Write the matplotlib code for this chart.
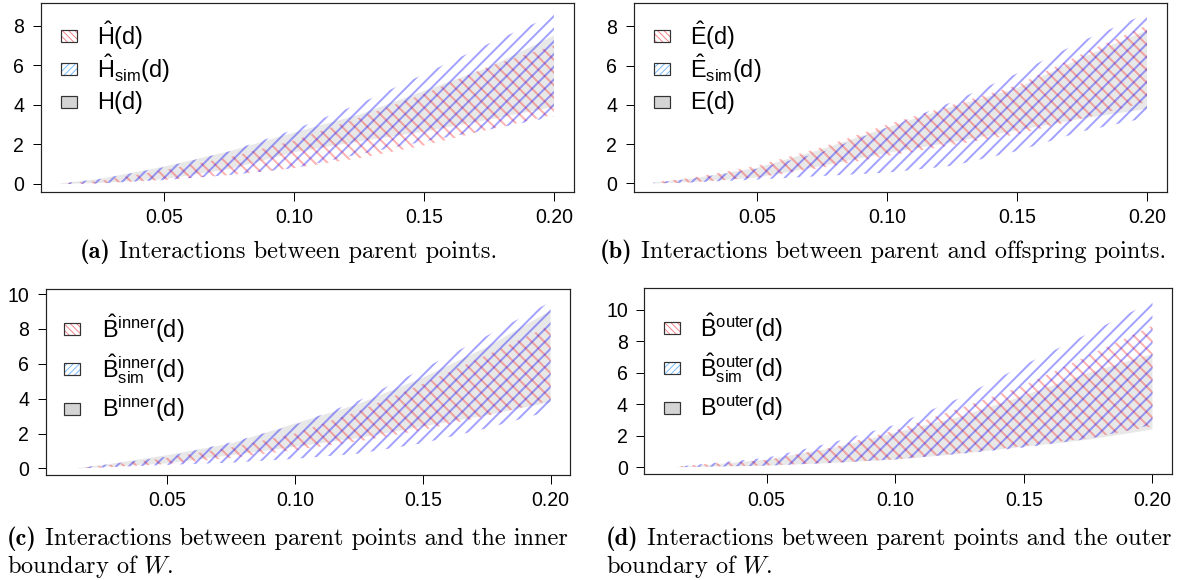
import matplotlib
matplotlib.use("Agg")
import matplotlib.pyplot as plt
from matplotlib.patches import Rectangle

# ---------------- data ----------------
x_a = [0.01, 0.025, 0.05, 0.075, 0.10, 0.125, 0.15, 0.175, 0.20]
H_lo = [0.0, 0.05, 0.25, 0.75, 1.6, 2.15, 2.65, 3.25, 3.9]
H_hi = [0.03, 0.25, 0.88, 1.65, 2.6, 3.5, 4.7, 5.9, 7.5]
Hhat_lo = [0.0, 0.03, 0.2, 0.45, 0.8, 1.3, 1.95, 2.75, 3.5]
Hhat_hi = [0.02, 0.15, 0.7, 1.35, 2.2, 3.35, 4.55, 5.95, 7.0]
Hsim_lo = [0.0, 0.03, 0.2, 0.45, 0.8, 1.5, 2.15, 2.75, 3.4]
Hsim_hi = [0.03, 0.25, 0.85, 1.65, 2.75, 4.05, 5.55, 7.1, 8.55]

x_b = [0.01, 0.025, 0.05, 0.075, 0.10, 0.125, 0.15, 0.175, 0.20]
E_lo = [0.0, 0.08, 0.3, 0.9, 1.55, 2.1, 2.7, 3.3, 3.8]
E_hi = [0.05, 0.25, 0.8, 1.75, 2.85, 3.9, 4.85, 6.4, 7.8]
Ehat_lo = [0.0, 0.05, 0.3, 0.8, 1.4, 1.95, 2.5, 3.3, 4.15]
Ehat_hi = [0.05, 0.3, 0.9, 1.85, 3.0, 4.0, 5.0, 6.6, 8.05]
Esim_lo = [0.0, 0.05, 0.2, 0.38, 0.55, 0.9, 1.65, 2.65, 3.35]
Esim_hi = [0.04, 0.25, 0.75, 1.6, 2.85, 4.15, 5.6, 7.25, 8.65]

x_c = [0.015, 0.025, 0.05, 0.075, 0.10, 0.125, 0.15, 0.175, 0.20]
Bin_lo = [0.0, 0.08, 0.29, 0.76, 1.24, 1.75, 2.4, 3.05, 3.8]
Bin_hi = [0.02, 0.2, 0.76, 1.43, 2.57, 3.7, 5.2, 6.95, 9.05]
Bhin_lo = [0.0, 0.05, 0.25, 0.6, 1.05, 1.55, 2.2, 3.0, 3.9]
Bhin_hi = [0.02, 0.15, 0.6, 1.2, 2.0, 3.3, 4.85, 6.5, 8.2]
Bsin_lo = [0.0, 0.05, 0.2, 0.33, 0.55, 0.85, 1.45, 2.3, 3.3]
Bsin_hi = [0.03, 0.2, 0.67, 1.5, 2.5, 3.9, 5.7, 7.6, 9.55]

x_d = [0.015, 0.025, 0.05, 0.075, 0.10, 0.125, 0.15, 0.175, 0.20]
Bout_lo = [0.0, 0.03, 0.1, 0.27, 0.48, 0.85, 1.3, 1.75, 2.4]
Bout_hi = [0.02, 0.12, 0.48, 1.2, 2.2, 3.2, 4.55, 6.0, 7.2]
Bhout_lo = [0.0, 0.03, 0.12, 0.28, 0.5, 0.9, 1.35, 1.85, 2.6]
Bhout_hi = [0.03, 0.2, 0.45, 1.25, 2.35, 3.75, 5.2, 7.1, 9.0]
Bsout_lo = [0.0, 0.03, 0.1, 0.27, 0.5, 0.85, 1.25, 1.8, 2.7]
Bsout_hi = [0.03, 0.2, 0.6, 1.55, 2.7, 4.4, 6.5, 8.5, 10.55]

x_ticks = [0.05, 0.10, 0.15, 0.20]
x_ticklabels = ["0.05", "0.10", "0.15", "0.20"]
y_ticks_ab = [0, 2, 4, 6, 8]
y_ticks_cd = [0, 2, 4, 6, 8, 10]

labels_a = [r"$\hat{\mathrm{H}}(\mathrm{d})$", r"$\hat{\mathrm{H}}_{\mathrm{sim}}(\mathrm{d})$", r"$\mathrm{H}(\mathrm{d})$"]
labels_b = [r"$\hat{\mathrm{E}}(\mathrm{d})$", r"$\hat{\mathrm{E}}_{\mathrm{sim}}(\mathrm{d})$", r"$\mathrm{E}(\mathrm{d})$"]
labels_c = [r"$\hat{\mathrm{B}}^{\mathrm{inner}}(\mathrm{d})$", r"$\hat{\mathrm{B}}_{\mathrm{sim}}^{\mathrm{inner}}(\mathrm{d})$", r"$\mathrm{B}^{\mathrm{inner}}(\mathrm{d})$"]
labels_d = [r"$\hat{\mathrm{B}}^{\mathrm{outer}}(\mathrm{d})$", r"$\hat{\mathrm{B}}_{\mathrm{sim}}^{\mathrm{outer}}(\mathrm{d})$", r"$\mathrm{B}^{\mathrm{outer}}(\mathrm{d})$"]

captions = [
    ("(a)", " Interactions between parent points.", None),
    ("(b)", " Interactions between parent and offspring points.", None),
    ("(c)", " Interactions between parent points and the inner", "boundary of $W$."),
    ("(d)", " Interactions between parent points and the outer", "boundary of $W$."),
]

# ---------------- style ----------------
DPI = 76
W, H = 1178, 580
plt.rcParams["font.family"] = ["Liberation Sans", "DejaVu Sans"]
plt.rcParams["mathtext.fontset"] = "custom"
plt.rcParams["mathtext.rm"] = "Liberation Sans"
plt.rcParams["mathtext.it"] = "Liberation Sans:italic"
plt.rcParams["mathtext.bf"] = "Liberation Sans:bold"
plt.rcParams["hatch.linewidth"] = 1.9


def pt(px):
    return px * 72.0 / DPI


RED = (1.0, 0.0, 0.0, 0.30)
BLUE = (0.0, 0.0, 1.0, 0.36)
GRAY = (0.91, 0.91, 0.91)
LEG_RED = (0.95, 0.3, 0.35, 0.8)
LEG_BLUE = (0.3, 0.65, 1.0, 0.85)
LEG_GRAY = (0.83, 0.83, 0.83)

fig = plt.figure(figsize=(W / DPI, H / DPI), dpi=DPI)
fig.patch.set_facecolor("white")

panels = [
    dict(x=x_a, g=(H_lo, H_hi), r=(Hhat_lo, Hhat_hi), b=(Hsim_lo, Hsim_hi), labels=labels_a,
         box=(40.7, 573.7, 2.7, 191.7), ylim=(-0.39, 9.16), yt=y_ticks_ab,
         leg=(61, 97, [36, 69, 102]), cap=(80, 258)),
    dict(x=x_b, g=(E_lo, E_hi), r=(Ehat_lo, Ehat_hi), b=(Esim_lo, Esim_hi), labels=labels_b,
         box=(633.7, 1166.7, 2.7, 191.7), ylim=(-0.42, 9.2), yt=y_ticks_ab,
         leg=(654, 690, [36, 69, 102]), cap=(600, 258)),
    dict(x=x_c, g=(Bin_lo, Bin_hi), r=(Bhin_lo, Bhin_hi), b=(Bsin_lo, Bsin_hi), labels=labels_c,
         box=(45.7, 570, 289.3, 475), ylim=(-0.38, 10.27), yt=y_ticks_cd,
         leg=(64, 102, [329, 369, 409]), cap=(7, 545)),
    dict(x=x_d, g=(Bout_lo, Bout_hi), r=(Bhout_lo, Bhout_hi), b=(Bsout_lo, Bsout_hi), labels=labels_d,
         box=(644.3, 1172, 288.3, 474), ylim=(-0.43, 11.38), yt=y_ticks_cd,
         leg=(664, 700, [328, 368, 408]), cap=(606, 545)),
]


def legend_patch(xy, w, h, **kw):
    with plt.rc_context({"hatch.linewidth": 0.8}):
        rect = Rectangle(xy, w, h, transform=fig.transFigure, **kw)
    if hasattr(rect, "set_hatch_linewidth"):
        rect.set_hatch_linewidth(0.8)
    fig.add_artist(rect)
    return rect


CAP = pt(24.4)
first_ax = None
for p, (tag, line1, line2) in zip(panels, captions):
    l, r, t, b = p["box"]
    ax = fig.add_axes([l / W, 1 - b / H, (r - l) / W, (b - t) / H])
    if first_ax is None:
        first_ax = ax
    x = p["x"]
    ax.fill_between(x, p["g"][0], p["g"][1], facecolor=GRAY, edgecolor="none", linewidth=0, zorder=1)
    ax.fill_between(x, p["r"][0], p["r"][1], facecolor="none", edgecolor=RED, hatch="\\\\", linewidth=0, zorder=2)
    ax.fill_between(x, p["b"][0], p["b"][1], facecolor="none", edgecolor=BLUE, hatch="//", linewidth=0, zorder=3)
    ax.set_xlim(0.0024, 0.2076)
    ax.set_ylim(*p["ylim"])
    ax.set_xticks(x_ticks)
    ax.set_xticklabels(x_ticklabels)
    ax.set_yticks(p["yt"])
    ax.set_yticklabels([str(v) for v in p["yt"]])
    ax.tick_params(length=pt(8.5), width=pt(1.0), pad=pt(8), labelsize=pt(19.5), colors="black")
    for s in ax.spines.values():
        s.set_linewidth(pt(1.2))
        s.set_color("#222222")

    # legend (R-style, drawn manually)
    bx, tx, rows = p["leg"]
    bw, bh = 16, 12.5
    for i, (yy, lab) in enumerate(zip(rows, p["labels"])):
        xy = (bx / W, 1 - (yy + bh / 2) / H)
        if i == 0:
            legend_patch(xy, bw / W, bh / H, facecolor="white", edgecolor=LEG_RED, hatch="\\\\\\\\", linewidth=0)
        elif i == 1:
            legend_patch(xy, bw / W, bh / H, facecolor="white", edgecolor=LEG_BLUE, hatch="////", linewidth=0)
        else:
            legend_patch(xy, bw / W, bh / H, facecolor=LEG_GRAY, edgecolor="none", linewidth=0)
        legend_patch(xy, bw / W, bh / H, facecolor="none", edgecolor="#333333", linewidth=pt(1.2))
        fig.text(tx / W, 1 - yy / H, lab, fontsize=pt(23.5), va="center", ha="left")

    # caption
    cx, cy = p["cap"]
    t1 = fig.text(cx / W, 1 - cy / H, tag, fontfamily="cmb10", fontsize=CAP, va="baseline", ha="left")
    first_ax.annotate(line1, xy=(1, 1 - cy / H), xycoords=(t1, "figure fraction"), va="baseline", ha="left",
                      fontfamily="cmr10", fontsize=CAP, annotation_clip=False)
    if line2:
        fig.text(cx / W, 1 - (cy + 28) / H, line2, fontfamily="cmr10", math_fontfamily="cm",
                 fontsize=CAP, va="baseline", ha="left")

fig.savefig("out.png", dpi=DPI, facecolor="white")
